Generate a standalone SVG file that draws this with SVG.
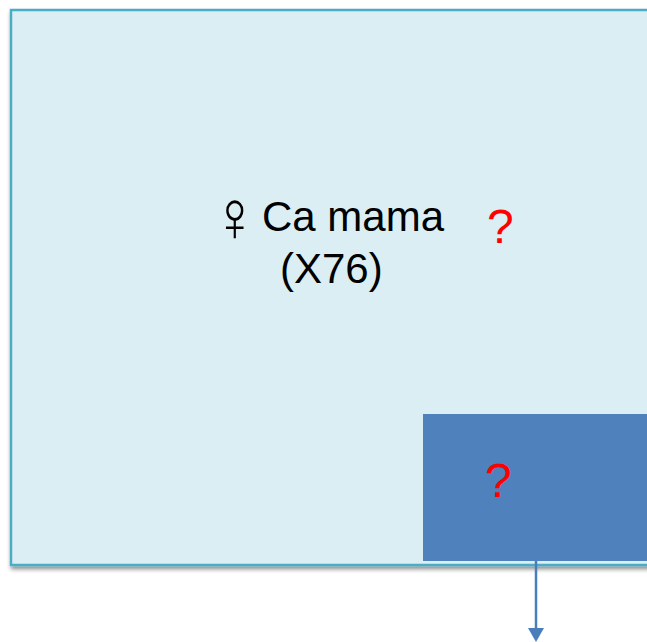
<svg xmlns="http://www.w3.org/2000/svg" width="647" height="642" viewBox="0 0 647 642">
<defs>
<filter id="sh" x="-5%" y="-5%" width="110%" height="110%">
<feGaussianBlur in="SourceAlpha" stdDeviation="2"/>
<feOffset dx="1" dy="3"/>
<feComponentTransfer><feFuncA type="linear" slope="0.45"/></feComponentTransfer>
<feMerge><feMergeNode/><feMergeNode in="SourceGraphic"/></feMerge>
</filter>
<style>
.lbl{font-family:"Liberation Sans",Arial,sans-serif;fill:#000}
.q{font-family:"Liberation Sans",Arial,sans-serif;fill:#FF0000;font-size:48px}
</style>
</defs>
<g id="outer">
<rect x="11" y="10" width="650" height="555" fill="#DAEEF3" stroke="#4BACC6" stroke-width="2.5" filter="url(#sh)"/>
<text class="lbl" transform="translate(212 241) scale(0.85 1)" font-size="72" font-family="DejaVu Sans,sans-serif">♀</text>
<text class="lbl" x="262" y="231" font-size="42">Ca mama</text>
<text class="lbl" x="280" y="283" font-size="42">(X76)</text>
<text class="q" x="487" y="243">?</text>
</g>
<g id="inner">
<rect x="423" y="414" width="230" height="147" fill="#4F81BD"/>
<text class="q" x="485" y="497">?</text>
</g>
<g id="connectors">
<line x1="536" y1="561" x2="536" y2="629" stroke="#4A7EBB" stroke-width="2.5"/>
<path d="M528,628 L544,628 L536,642 Z" fill="#4A7EBB"/>
</g>
</svg>
